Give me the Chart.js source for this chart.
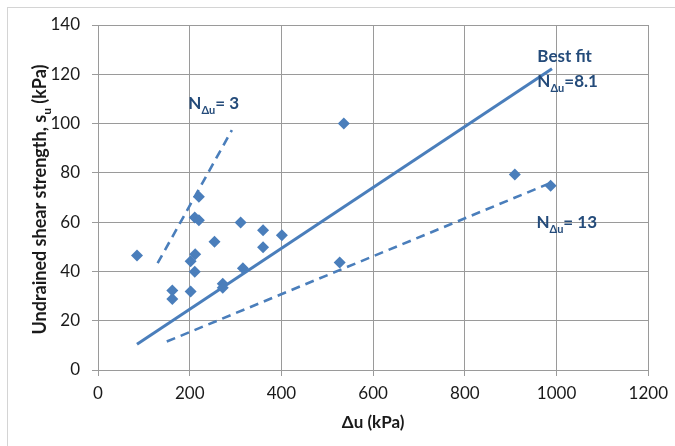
<!DOCTYPE html>
<html>
<head>
<meta charset="utf-8">
<script src="https://cdn.jsdelivr.net/npm/chart.js@4.4.1/dist/chart.umd.min.js"></script>
<style>
  html, body { margin: 0; padding: 0; background: #fff; }
</style>
</head>
<body>
<canvas id="su-chart" width="675" height="446"></canvas>
<script>
'use strict';

// pore pressure change (kPa) and undrained shear strength (kPa) per test
let duValues = [85, 162, 162, 202, 211, 202, 212, 220, 211, 220, 254, 272, 272, 311, 316, 360, 360, 401, 536, 527, 909, 987];
let suValues = [46.5, 32.3, 28.8, 31.9, 39.9, 44.1, 47.0, 70.3, 61.9, 60.8, 52.0, 35.0, 33.4, 59.9, 41.3, 56.7, 49.8, 54.7, 100, 43.6, 79.3, 74.8];

// N_du lines: best fit, lower and upper bound, with the du range each one spans
let lineNames = ['Best fit', 'N3', 'N13'];
let lineRatios = [8.1, 3, 13];
let lineFrom = [85, 130, 150];
let lineTo = [990, 292, 985];

let xTitle = 'Δu (kPa)';
let yTitle = [['Undrained shear strength, s', false], ['u', true], [' (kPa)', false]];

const BLUE = '#4a7ebb';
const NAVY = '#244b7a';
const GRID = '#9a9a9a';
const FONT = 'Lato';

let canvas = document.querySelector('#su-chart');

function linePoints(i) {
  return [lineFrom[i], lineTo[i]].map(x => ({ x: x, y: x / lineRatios[i] }));
}

// text with subscripts: parts = [[text, isSub], ...]
function drawRich(ctx, parts, x, y, size, subSize, align) {
  let total = 0;
  parts.forEach(p => {
    ctx.font = 'bold ' + (p[1] ? subSize : size) + 'px ' + FONT;
    total += ctx.measureText(p[0]).width;
  });
  if (align === 'center') x -= total / 2;
  parts.forEach(p => {
    ctx.font = 'bold ' + (p[1] ? subSize : size) + 'px ' + FONT;
    ctx.fillText(p[0], x, p[1] ? y + size * 0.3 : y);
    x += ctx.measureText(p[0]).width;
  });
}

// outer frame, y axis title and the N labels
const extras = {
  id: 'extras',
  beforeDraw(chart) {
    let ctx = chart.ctx;
    ctx.save();
    ctx.strokeStyle = '#d4d4d4';
    ctx.lineWidth = 1;
    ctx.strokeRect(7.5, 7.5, 700, 500);
    ctx.restore();
  },
  afterDraw(chart) {
    let ctx = chart.ctx;
    let xs = chart.scales.x, ys = chart.scales.y;
    let area = chart.chartArea;

    ctx.save();
    ctx.fillStyle = '#1a1a1a';
    ctx.textBaseline = 'alphabetic';
    ctx.translate(46, (area.top + area.bottom) / 2 + 2);
    ctx.rotate(-Math.PI / 2);
    drawRich(ctx, yTitle, 0, 0, 18, 12, 'center');
    ctx.restore();

    ctx.save();
    ctx.fillStyle = NAVY;
    ctx.textBaseline = 'alphabetic';
    let labels = [
      { x: 958, y: 125, parts: [['Best fit', false]] },
      { x: 958, y: 115, parts: [['N', false], ['Δu', true], ['=8.1', false]] },
      { x: 197, y: 106, parts: [['N', false], ['Δu', true], ['= 3', false]] },
      { x: 956, y: 57.5, parts: [['N', false], ['Δu', true], ['= 13', false]] },
    ];
    labels.forEach(l => {
      drawRich(ctx, l.parts, xs.getPixelForValue(l.x), ys.getPixelForValue(l.y), 17, 11, 'left');
    });
    ctx.restore();
  },
};

let datasets = [
  {
    label: 'Tests',
    data: duValues.map((x, i) => ({ x: x, y: suValues[i] })),
    showLine: false,
    pointStyle: 'rectRot',
    pointRadius: 6,
    pointBackgroundColor: BLUE,
    pointBorderColor: BLUE,
    pointBorderWidth: 0,
  },
];
lineNames.forEach((name, i) => {
  datasets.push({
    label: name,
    data: linePoints(i),
    showLine: true,
    pointRadius: 0,
    borderColor: BLUE,
    borderWidth: i === 0 ? 3 : 2.6,
    borderDash: i === 0 ? [] : [9, 6],
  });
});

let tickFont = { family: FONT, size: 17 };
let plainNumber = v => String(v);

new Chart(canvas, {
  type: 'scatter',
  data: { datasets: datasets },
  plugins: [extras],
  options: {
    responsive: false,
    animation: false,
    layout: { padding: { top: 25, right: 26, bottom: 0, left: 0 } },
    plugins: { legend: { display: false }, tooltip: { enabled: false } },
    scales: {
      x: {
        type: 'linear',
        min: 0,
        max: 1200,
        ticks: { stepSize: 200, font: tickFont, color: '#1a1a1a', padding: 7, callback: plainNumber },
        grid: { color: GRID, tickLength: 6 },
        border: { color: GRID },
        title: {
          display: true,
          text: xTitle,
          color: '#1a1a1a',
          font: { family: FONT, size: 17, weight: 'bold' },
          padding: { top: 4, bottom: 13 },
        },
        afterFit(scale) { scale.height = 76; },
      },
      y: {
        type: 'linear',
        min: 0,
        max: 140,
        ticks: { stepSize: 20, font: tickFont, color: '#1a1a1a', padding: 12, callback: plainNumber },
        grid: { color: GRID, tickLength: 6 },
        border: { color: GRID },
        afterFit(scale) { scale.width = 98; },
      },
    },
  },
});
</script>
</body>
</html>
